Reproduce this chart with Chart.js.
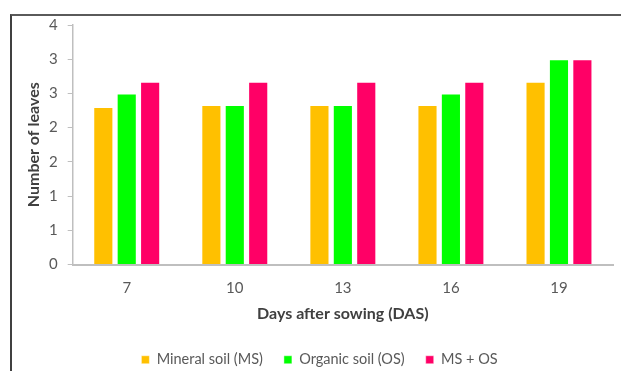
<!DOCTYPE html>
<html>
<head>
<meta charset="utf-8">
<script src="https://cdn.jsdelivr.net/npm/chart.js@4"></script>
<style>
  html, body { margin: 0; padding: 0; background: #fff; }
  #wrap { position: relative; width: 621px; height: 371px; overflow: hidden; }
  #frame {
    position: absolute; left: 10px; top: 14px; width: 700px; height: 400px;
    border-top: 2px solid #5a5a5a; border-left: 2px solid #404040;
  }
  #chart { position: absolute; left: 0; top: 0; }
</style>
</head>
<body>
<div id="wrap">
  <div id="frame"></div>
  <canvas id="chart" width="621" height="371"></canvas>
</div>
<script>
// 파종 후 일수 (DAS)
const days = ["7", "10", "13", "16", "19"];
// 잎 개수 평균
const mineralSoil = [2.3, 2.33, 2.33, 2.33, 2.67];
const organicSoil = [2.5, 2.33, 2.33, 2.5, 3.0];
const mixedSoil = [2.67, 2.67, 2.67, 2.67, 3.0];

const orange = "#FFC000";
const green = "#00FF00";
const pink = "#FF0066";
const grey = "#595959";
const font = "Lato, 'Open Sans', sans-serif";

function dataset(label, arr, color) {
  return {
    label: label,
    data: arr,
    backgroundColor: color,
    borderColor: "rgba(255,255,255,0.45)",
    borderWidth: 1,
    categoryPercentage: 0.65,
    barPercentage: 0.86,
  };
}

let data = {
  labels: days,
  datasets: [
    dataset("Mineral soil (MS)", mineralSoil, orange),
    dataset("Organic soil (OS)", organicSoil, green),
    dataset("MS + OS", mixedSoil, pink),
  ],
};

let config = {
  type: "bar",
  data: data,
  options: {
    responsive: false,
    animation: false,
    layout: { padding: { left: 26, right: 8, top: 25, bottom: -6 } },
    plugins: {
      tooltip: { enabled: false },
      legend: {
        position: "bottom",
        labels: {
          boxWidth: 8,
          boxHeight: 8,
          padding: 21,
          color: grey,
          font: { family: font, size: 14.5 },
        },
      },
    },
    scales: {
      x: {
        grid: { display: false, drawTicks: false },
        border: { display: true, color: "#bfbfbf", width: 2 },
        ticks: {
          color: grey,
          font: { family: font, size: 15, lineHeight: 1 },
          padding: 16,
        },
        title: {
          display: true,
          text: "Days after sowing (DAS)",
          color: "#404040",
          font: { family: font, size: 16, weight: "bold", lineHeight: 1 },
          padding: { top: -6, bottom: 10 },
        },
      },
      y: {
        min: 0,
        max: 3.5,
        ticks: {
          stepSize: 0.5,
          color: grey,
          font: { family: font, size: 15 },
          padding: 10,
          callback: (v) => Math.round(v),
        },
        grid: {
          drawOnChartArea: false,
          drawTicks: true,
          tickLength: 5,
          color: "#bfbfbf",
        },
        border: { display: true, color: "#bfbfbf", width: 1.5 },
        title: {
          display: true,
          text: "Number of leaves",
          color: "#404040",
          font: { family: font, size: 16, weight: "bold", lineHeight: 1 },
          padding: { top: 0, bottom: -3 },
        },
      },
    },
  },
};

new Chart(document.getElementById("chart"), config);
</script>
</body>
</html>
